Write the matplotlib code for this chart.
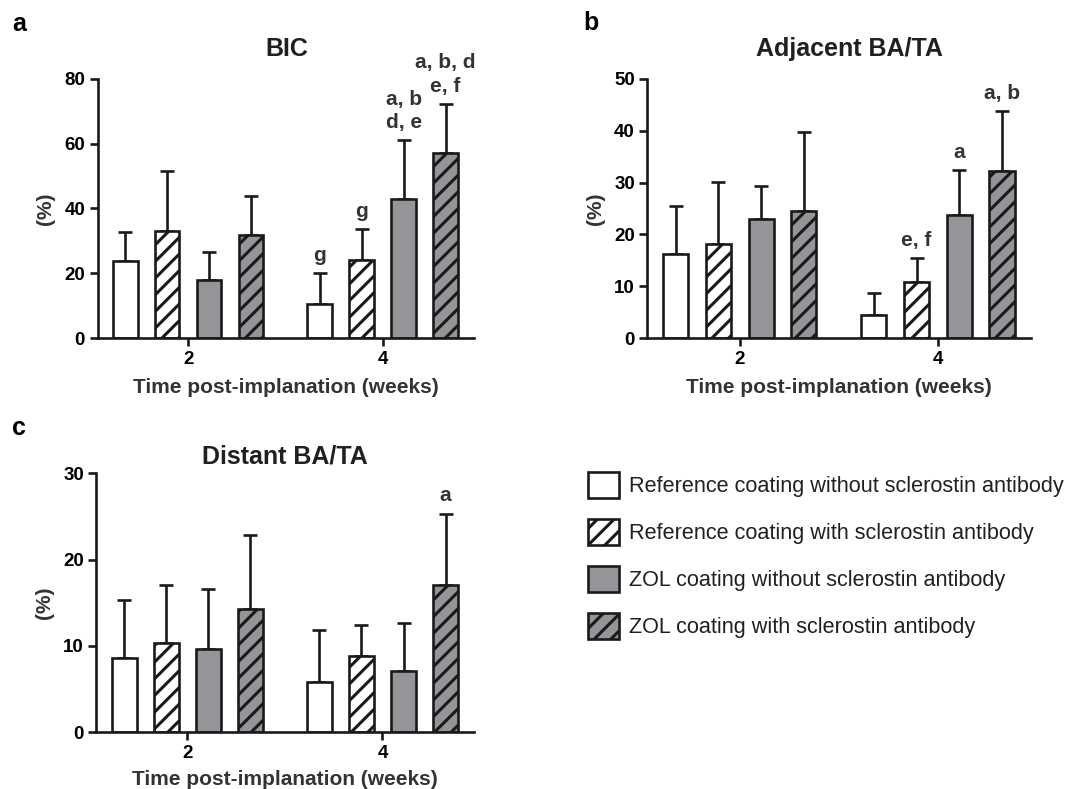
import numpy as np
import matplotlib
matplotlib.use('Agg')
import matplotlib.pyplot as plt

plt.rcParams['font.family'] = ['Liberation Sans', 'DejaVu Sans']
plt.rcParams['hatch.linewidth'] = 2.2
plt.rcParams['hatch.color'] = '#1a1a1a'

weeks = ['2', '4']
groups = ['Reference coating without sclerostin antibody',
          'Reference coating with sclerostin antibody',
          'ZOL coating without sclerostin antibody',
          'ZOL coating with sclerostin antibody']

# mean and SD per group, rows = week 2, week 4
bic_mean = [[23.9, 33.1, 17.9, 31.7], [10.5, 24.0, 42.9, 57.2]]
bic_sd = [[8.8, 18.5, 8.6, 12.1], [9.5, 9.7, 18.1, 15.1]]
adj_mean = [[16.3, 18.2, 22.9, 24.5], [4.4, 10.9, 23.7, 32.2]]
adj_sd = [[9.1, 11.9, 6.4, 15.2], [4.3, 4.5, 8.7, 11.6]]
dist_mean = [[8.6, 10.3, 9.6, 14.3], [5.8, 8.8, 7.1, 17.0]]
dist_sd = [[6.7, 6.7, 7.0, 8.5], [6.1, 3.6, 5.5, 8.3]]

# significance letters, keyed by (week index, group index)
bic_sig = {(1, 0): 'g', (1, 1): 'g', (1, 2): 'a, b\nd, e', (1, 3): 'a, b, d\ne, f'}
adj_sig = {(1, 1): 'e, f', (1, 2): 'a', (1, 3): 'a, b'}
dist_sig = {(1, 3): 'a'}

colors = ['white', 'white', '#939598', '#939598']
hatches = [None, '//', None, '//']
edge = '#1a1a1a'
text_col = '#231f20'

fig = plt.figure(figsize=(10.72, 7.89), dpi=100)
ax_a = fig.add_axes([0.091, 0.5716, 0.351, 0.3284])
ax_b = fig.add_axes([0.604, 0.5716, 0.3575, 0.3284])
ax_c = fig.add_axes([0.090, 0.0719, 0.352, 0.3283])


def draw_panel(ax, mean, sd, sig, title, ymax, ystep, title_x, title_y, xlabel_y):
    mean = np.array(mean)
    sd = np.array(sd)
    x = np.arange(len(weeks))
    offsets = [-0.323, -0.108, 0.108, 0.323]
    bars = []
    for g in range(4):
        b = ax.bar(x + offsets[g], mean[:, g], width=0.127, color=colors[g],
                   edgecolor=edge, linewidth=1.9, hatch=hatches[g], zorder=2,
                   label=groups[g])
        ax.errorbar(x + offsets[g], mean[:, g],
                    yerr=[np.zeros(len(weeks)), sd[:, g]], fmt='none',
                    ecolor=edge, elinewidth=1.9, capsize=5.2, capthick=1.9, zorder=1)
        bars.append(b)
    for (w, g), s in sig.items():
        ax.annotate(s, xy=(x[w] + offsets[g], mean[w, g] + sd[w, g]),
                    xytext=(0, 6), textcoords='offset points', ha='center',
                    va='bottom', fontsize=15, fontweight='bold', color='#333333',
                    linespacing=1.3)
    ax.set_ylim(0, ymax)
    ax.set_xlim(-0.465, 1.468)
    ax.set_yticks(np.arange(0, ymax + 1, ystep))
    ax.set_xticks(x)
    ax.set_xticklabels(weeks)
    for sp in ['top', 'right']:
        ax.spines[sp].set_visible(False)
    for sp in ['left', 'bottom']:
        ax.spines[sp].set_linewidth(1.9)
        ax.spines[sp].set_color(edge)
    ax.tick_params(width=1.9, length=6, color=edge, labelsize=13.5, pad=3)
    for lab in ax.get_xticklabels() + ax.get_yticklabels():
        lab.set_fontweight('bold')
    ax.set_ylabel('(%)', fontsize=15, fontweight='bold', color='#333333')
    ax.yaxis.set_label_coords(-0.112, 0.5)
    ax.set_xlabel('Time post-implanation (weeks)', fontsize=15,
                  fontweight='bold', color='#333333')
    ax.xaxis.set_label_coords(0.5, xlabel_y)
    ax.xaxis.label.set_va('top')
    ax.text(title_x, title_y, title, transform=ax.transAxes, ha='center',
            va='center', fontsize=18, fontweight='bold', color=text_col)
    return bars


bars = draw_panel(ax_a, bic_mean, bic_sd, bic_sig, 'BIC', 80, 20, 0.503, 1.116, -0.155)
draw_panel(ax_b, adj_mean, adj_sd, adj_sig, 'Adjacent BA/TA', 50, 10, 0.528, 1.116, -0.155)
draw_panel(ax_c, dist_mean, dist_sd, dist_sig, 'Distant BA/TA', 30, 10, 0.5, 1.066, -0.145)

fig.text(12 / 1072, 1 - 31 / 789, 'a', fontsize=18, fontweight='bold', va='baseline')
fig.text(583 / 1072, 1 - 30 / 789, 'b', fontsize=18, fontweight='bold', va='baseline')
fig.text(12 / 1072, 1 - 435 / 789, 'c', fontsize=18, fontweight='bold', va='baseline')

fig.legend([b[0] for b in bars], groups, loc='upper left',
           bbox_to_anchor=(588 / 1072, 1 - 472 / 789), frameon=False,
           fontsize=15.6, handlelength=1.45, handleheight=1.45, handletextpad=0.42,
           labelspacing=0.98, borderpad=0, borderaxespad=0, labelcolor=text_col)

fig.savefig('out.png', dpi=100)
